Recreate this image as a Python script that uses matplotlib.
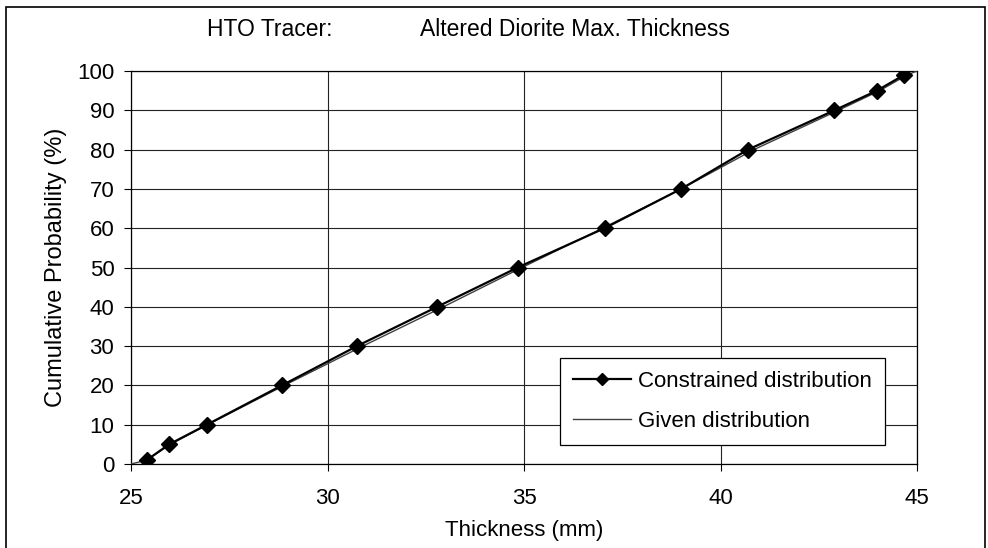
import matplotlib
matplotlib.use('Agg')
import matplotlib.pyplot as plt
from matplotlib.patches import Rectangle

plt.rcParams['font.family'] = ['Liberation Sans', 'DejaVu Sans']

# constrained distribution (markers)
con_x = [25.4, 25.97, 26.93, 28.84, 30.75, 32.79, 34.84, 37.05, 39.0, 40.7, 42.9, 43.98, 44.67]
con_y = [1, 5, 10, 20, 30, 40, 50, 60, 70, 80, 90, 95, 99]

# given distribution (thin line)
giv_x = [25.0, 25.4, 26.0, 26.95, 28.9, 30.9, 32.95, 34.95, 37.0, 39.0, 40.85, 43.0, 44.05, 44.75, 45.0]
giv_y = [0, 1, 5, 10, 20, 30, 40, 50, 60, 70, 80, 90, 95, 99, 100]

fig = plt.figure(figsize=(9.88, 5.48), dpi=100)
ax = fig.add_axes([131/988, 1 - 464/548, (917 - 131)/988, (464 - 71)/548])

ax.plot(giv_x, giv_y, color='#404040', lw=1.0, label='Given distribution', zorder=3)
ax.plot(con_x, con_y, color='black', lw=1.6, marker='D', markersize=8,
        label='Constrained distribution', zorder=4)

ax.set_xlim(25, 45)
ax.set_ylim(0, 100)
ax.set_xticks(range(25, 46, 5))
ax.set_yticks(range(0, 101, 10))
ax.grid(True, color='#222222', lw=0.8)
ax.set_axisbelow(True)
ax.tick_params(labelsize=16, direction='out', length=5, color='black')
ax.tick_params(axis='x', pad=12)
ax.tick_params(axis='y', pad=7)
for s in ax.spines.values():
    s.set_color('black')
    s.set_linewidth(0.9)

ax.set_xlabel('Thickness (mm)', fontsize=16, labelpad=8)
ax.set_ylabel('Cumulative Probability (%)', fontsize=17, labelpad=7)

fig.text(207/988, 1 - 30/548, 'HTO Tracer:', fontsize=16.5, va='center', ha='left')
fig.text(420/988, 1 - 30/548, 'Altered Diorite Max. Thickness', fontsize=16.5, va='center', ha='left')

handles, labels = ax.get_legend_handles_labels()
leg = ax.legend(handles[::-1], labels[::-1], loc='lower right', bbox_to_anchor=(0.959, 0.048),
                borderaxespad=0, fontsize=16, frameon=True, fancybox=False, edgecolor='black',
                handlelength=2.6, handletextpad=0.3, borderpad=0.6, labelspacing=0.85,
                framealpha=1)
leg.get_frame().set_linewidth(0.9)
for h in leg.legend_handles:
    h.set_markersize(6)

# outer chart border (bottom edge falls off the image)
fig.patches.append(Rectangle((6/988, -2/548), 979/988, 543/548, transform=fig.transFigure,
                             fill=False, edgecolor='black', lw=1.2))

fig.savefig('out.png', dpi=100)
